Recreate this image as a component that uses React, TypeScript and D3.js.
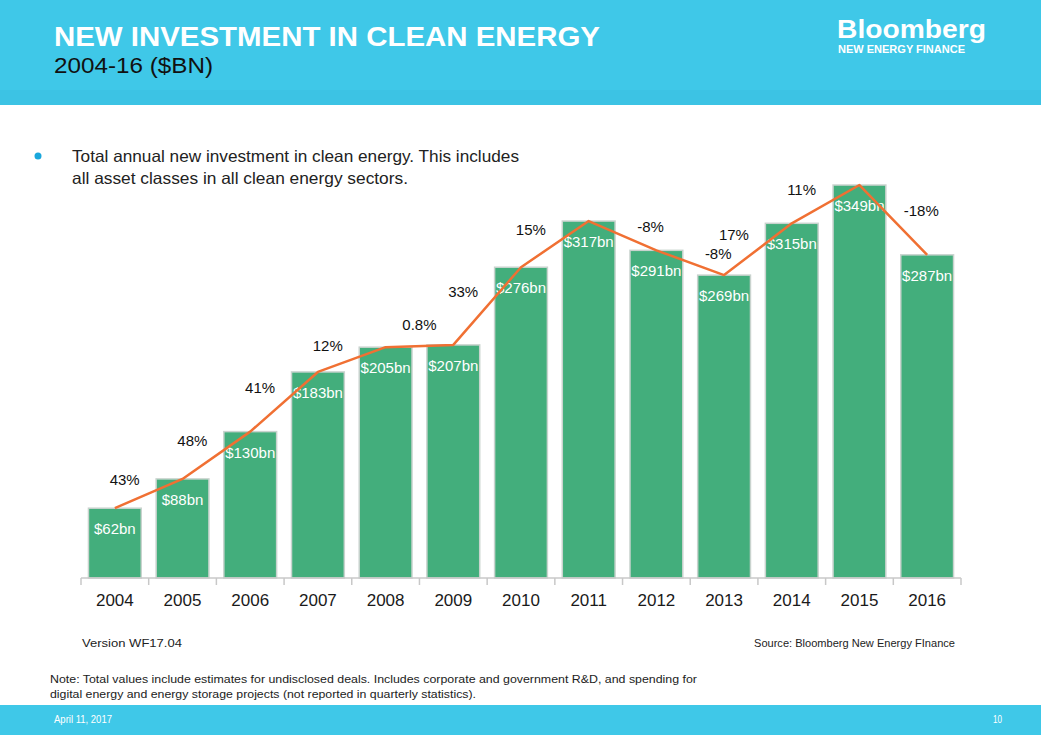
import React, { useEffect, useRef } from 'react';
import * as d3 from 'd3';

// data
const years = ['2004', '2005', '2006', '2007', '2008', '2009', '2010', '2011', '2012', '2013', '2014', '2015', '2016'];
const investment = [62, 88, 130, 183, 205, 207, 276, 317, 291, 269, 315, 349, 287];
const growthLabels = ['43%', '48%', '41%', '12%', '0.8%', '33%', '15%', '-8%', '-8%', '17%', '11%', '-18%'];

const W = 1041;
const H = 735;
const narrow = '"Liberation Sans Narrow", "Arial Narrow", "Liberation Sans", Arial, sans-serif';
const sans = '"Liberation Sans", Arial, sans-serif';

export default function App() {
  const svgRef = useRef<SVGSVGElement>(null);

  useEffect(() => {
    if (!svgRef.current) return;
    const svg = d3.select(svgRef.current);
    svg.selectAll('*').remove();

    // header / footer bands
    svg.append('rect').attr('x', 0).attr('y', 0).attr('width', W).attr('height', 105).attr('fill', '#3fc8e8');
    svg.append('rect').attr('x', 0).attr('y', 90).attr('width', W).attr('height', 15).attr('fill', '#3cc3e4');
    svg.append('rect').attr('x', 0).attr('y', 705).attr('width', W).attr('height', 30).attr('fill', '#3fc8e8');

    svg.append('text').attr('x', 54).attr('y', 46)
      .attr('font-family', sans).attr('font-weight', 'bold').attr('font-size', 28)
      .attr('fill', '#fff').attr('textLength', 546).attr('lengthAdjust', 'spacingAndGlyphs')
      .text('NEW INVESTMENT IN CLEAN ENERGY');
    svg.append('text').attr('x', 54).attr('y', 73)
      .attr('font-family', sans).attr('font-size', 22).attr('fill', '#111')
      .attr('textLength', 159).attr('lengthAdjust', 'spacingAndGlyphs')
      .text('2004-16 ($BN)');

    // logo
    svg.append('text').attr('x', 837).attr('y', 38)
      .attr('font-family', sans).attr('font-weight', 'bold').attr('font-size', 25).attr('fill', '#fff')
      .attr('textLength', 149).attr('lengthAdjust', 'spacingAndGlyphs')
      .text('Bloomberg');
    svg.append('text').attr('x', 838).attr('y', 53)
      .attr('font-family', sans).attr('font-weight', 'bold').attr('font-size', 10.5).attr('fill', '#fff')
      .attr('textLength', 127).attr('lengthAdjust', 'spacingAndGlyphs')
      .text('NEW ENERGY FINANCE');

    // bullet
    svg.append('circle').attr('cx', 38).attr('cy', 156).attr('r', 3.5).attr('fill', '#1aa7dc');
    const bullet = svg.append('text').attr('font-family', sans).attr('font-size', 16.5).attr('fill', '#222');
    bullet.append('tspan').attr('x', 72).attr('y', 162)
      .attr('textLength', 447).attr('lengthAdjust', 'spacingAndGlyphs')
      .text('Total annual new investment in clean energy. This includes');
    bullet.append('tspan').attr('x', 72).attr('y', 184)
      .attr('textLength', 336).attr('lengthAdjust', 'spacingAndGlyphs')
      .text('all asset classes in all clean energy sectors.');

    // chart
    const x = d3.scaleBand<string>().domain(years).range([81, 961]).paddingInner(0.22).paddingOuter(0.11);
    const y = d3.scaleLinear().domain([0, 400]).range([578, 127.6]);
    const step = x.step();

    const g = svg.append('g');
    g.selectAll('rect.bar')
      .data(years)
      .join('rect')
      .attr('class', 'bar')
      .attr('x', d => x(d)!)
      .attr('y', (d, i) => y(investment[i]))
      .attr('width', x.bandwidth())
      .attr('height', (d, i) => y(0) - y(investment[i]))
      .attr('fill', '#43ae7c')
      .attr('stroke', '#c9d3ce')
      .attr('stroke-width', 1.5);

    // axis
    g.append('line').attr('x1', 81).attr('x2', 961).attr('y1', y(0)).attr('y2', y(0))
      .attr('stroke', '#c8c8c8').attr('stroke-width', 1.5);
    const ticks = d3.range(years.length + 1).map(i => 81 + i * step);
    g.selectAll('line.tick').data(ticks).join('line').attr('class', 'tick')
      .attr('x1', d => d).attr('x2', d => d).attr('y1', y(0)).attr('y2', y(0) + 7)
      .attr('stroke', '#c8c8c8').attr('stroke-width', 1.5);
    g.selectAll('text.year').data(years).join('text').attr('class', 'year')
      .attr('x', d => x(d)! + x.bandwidth() / 2)
      .attr('y', 606)
      .attr('text-anchor', 'middle')
      .attr('font-family', sans).attr('font-size', 17).attr('fill', '#1a1a1a')
      .text(d => d);

    // value labels
    g.selectAll('text.val').data(years).join('text').attr('class', 'val')
      .attr('x', d => x(d)! + x.bandwidth() / 2)
      .attr('y', (d, i) => y(investment[i]) + 26)
      .attr('text-anchor', 'middle')
      .attr('font-family', sans).attr('font-size', 15).attr('fill', '#fff')
      .text((d, i) => `$${investment[i]}bn`);

    // growth line
    const pts: [number, number][] = years.map((d, i) => [x(d)! + x.bandwidth() / 2, y(investment[i])]);
    g.append('path')
      .attr('d', d3.line()(pts)!)
      .attr('fill', 'none')
      .attr('stroke', '#f07033')
      .attr('stroke-width', 2.5)
      .attr('stroke-linejoin', 'round');

    // growth labels near each segment
    g.selectAll('text.pct').data(growthLabels).join('text').attr('class', 'pct')
      .attr('x', (d, i) => {
        const mx = (pts[i][0] + pts[i + 1][0]) / 2;
        const dy = pts[i + 1][1] - pts[i][1];
        if (Math.abs(dy) < 5) return mx;
        return dy < 0 ? mx - 24 : mx + 28;
      })
      .attr('y', (d, i) => {
        const my = (pts[i][1] + pts[i + 1][1]) / 2;
        const dy = pts[i + 1][1] - pts[i][1];
        if (Math.abs(dy) < 5) return my - 16;
        return dy < 0 ? my - 9 : my - 4;
      })
      .attr('text-anchor', 'middle')
      .attr('font-family', sans).attr('font-size', 15).attr('fill', '#111')
      .text(d => d);

    // footnotes
    const small = (t: string, xx: number, yy: number, len: number, size: number, anchor = 'start', fill = '#222') =>
      svg.append('text').attr('x', xx).attr('y', yy).attr('text-anchor', anchor)
        .attr('font-family', narrow).attr('font-size', size).attr('fill', fill)
        .attr('textLength', len).attr('lengthAdjust', 'spacingAndGlyphs')
        .text(t);
    small('Version WF17.04', 82, 647, 100, 10.5);
    small('Source: Bloomberg New Energy FInance', 955, 647, 201, 10.5, 'end');
    small('Note: Total values include estimates for undisclosed deals. Includes corporate and government R&D, and spending for', 50, 683, 647, 11.5);
    small('digital energy and energy storage projects (not reported in quarterly statistics).', 50, 698, 426, 11.5);
    small('April 11, 2017', 54, 723, 58, 11, 'start', '#fff');
    small('10', 1002, 723, 9, 11, 'end', '#fff');
  }, []);

  return (
    <div style={{ position: 'fixed', left: 0, top: 0, width: W, height: H, background: '#fff' }}>
      <svg ref={svgRef} width={W} height={H} viewBox={`0 0 ${W} ${H}`} style={{ display: 'block' }} />
    </div>
  );
}
